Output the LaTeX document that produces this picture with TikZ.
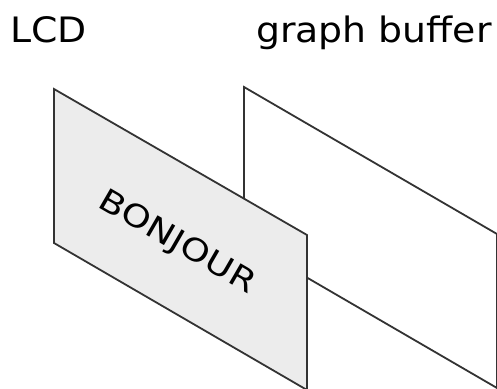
\documentclass[tikz,border=0pt]{standalone}
\usepackage{fontspec}
\setmainfont{DejaVu Sans}
\definecolor{edge}{HTML}{333333}
\definecolor{screen}{HTML}{ECECEC}
\tikzset{
  plane/.style={draw=edge, line width=1.8pt, line join=miter},
  title/.style={inner sep=0pt, anchor=base west, font=\fontsize{35}{40}\selectfont, xscale=1.08},
  screentext/.style={inner sep=0pt, font=\fontsize{31}{36}\selectfont, rotate=-30, xscale=1.2}
}
\begin{document}
\begin{tikzpicture}[x=1pt,y=-1pt]
\useasboundingbox (0,0) rectangle (497,388);
\clip (0,0) rectangle (497,388);
% graph buffer plane (behind)
\draw[plane, fill=white] (244,87) -- (497,234) -- (497,388) -- (244,241) -- cycle;
% LCD plane (front)
\draw[plane, fill=screen] (54,89) -- (307,235) -- (307,390) -- (54,243) -- cycle;
\node[screentext] (bonjour) at (177,243) {BONJOUR};
\node[title] (lcd) at (10,42) {LCD};
\node[title] (buf) at (256,42) {graph buffer};
\end{tikzpicture}
\end{document}
